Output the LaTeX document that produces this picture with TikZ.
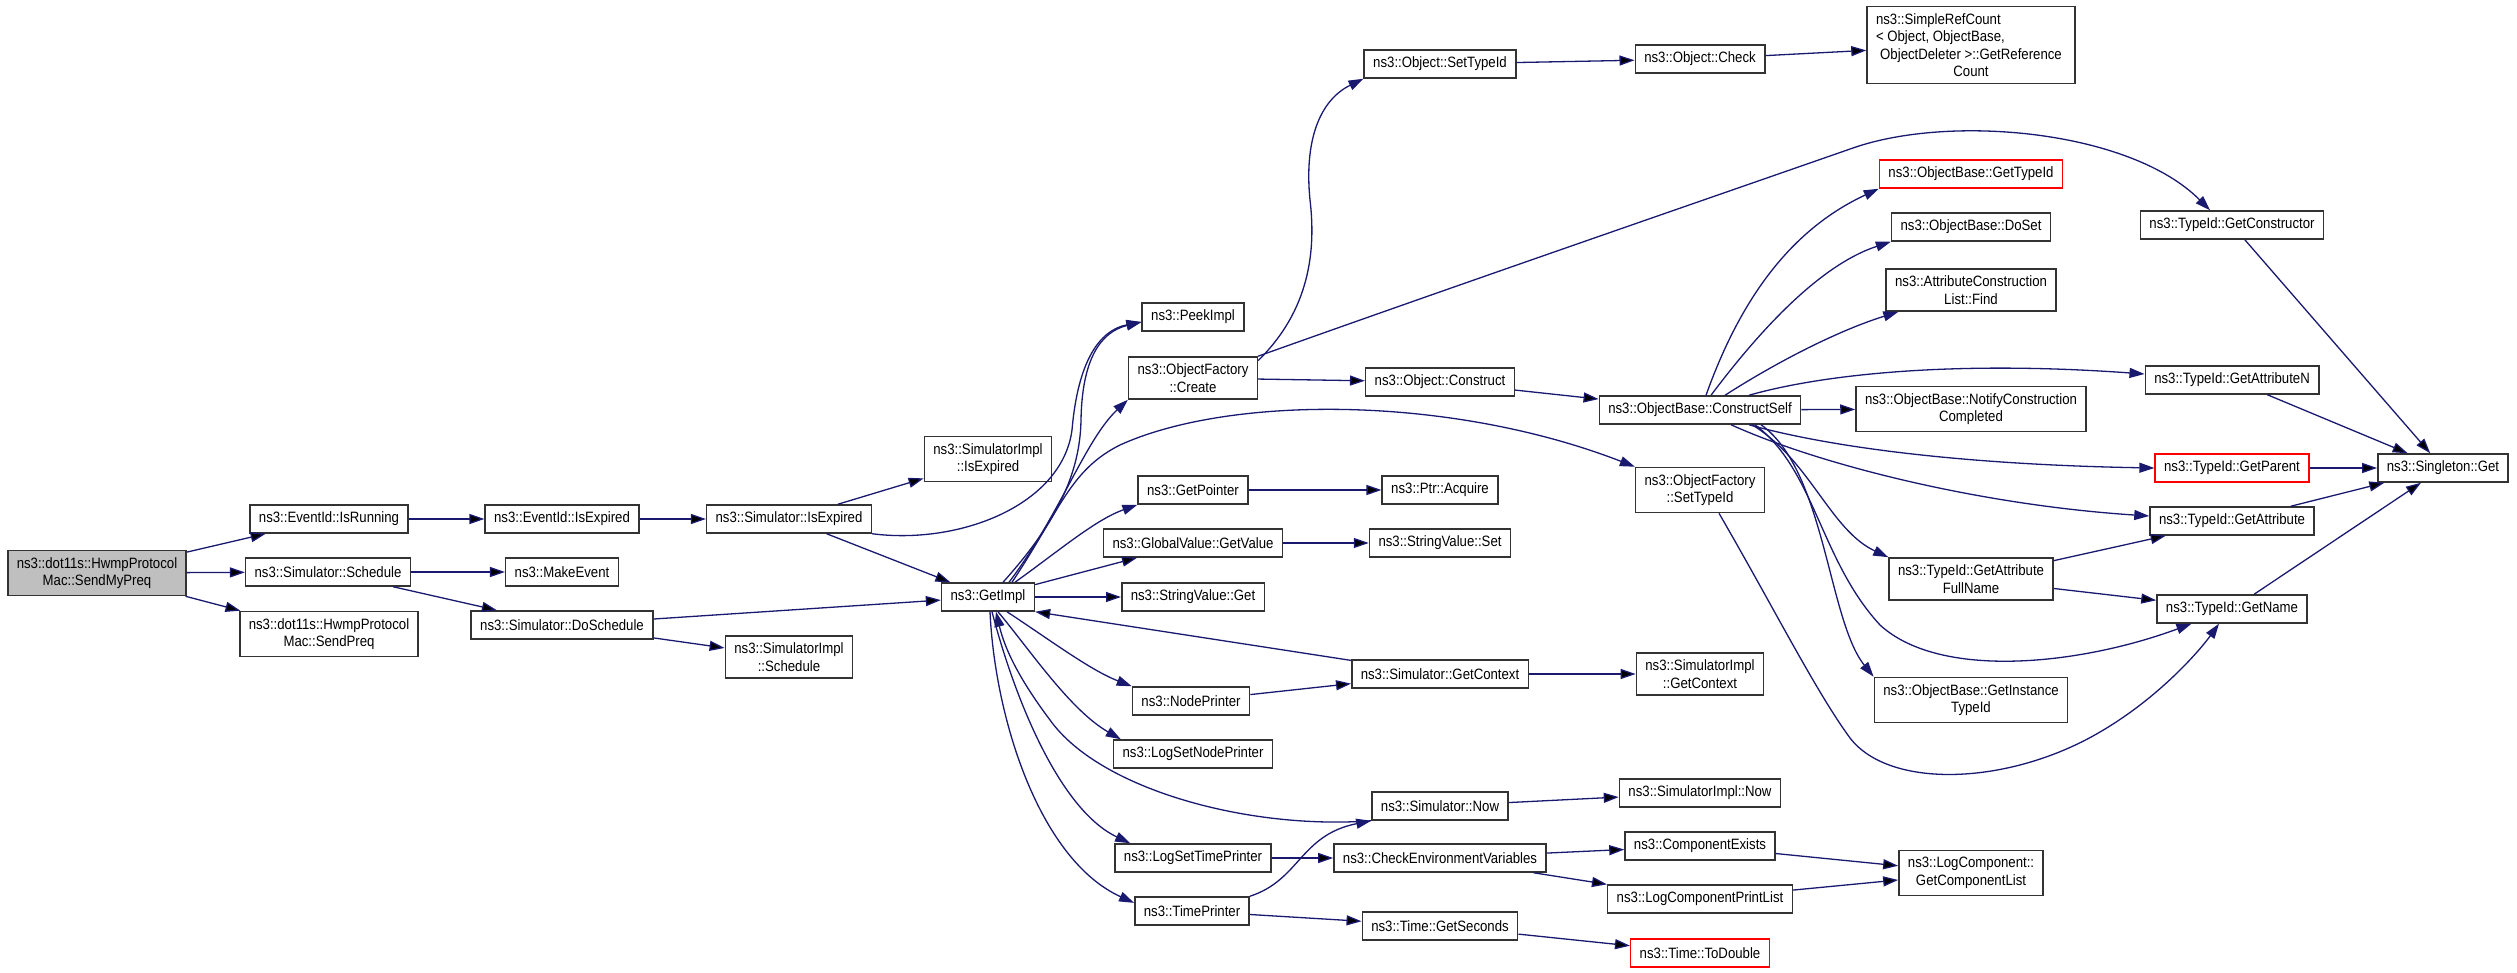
\documentclass[tikz,border=0pt]{standalone}
\usepackage{fontspec}
\setmainfont{Liberation Sans}[FakeStretch=0.88]
\usetikzlibrary{arrows.meta, positioning}

\definecolor{edgeblue}{HTML}{191970}
\definecolor{callerfill}{HTML}{BFBFBF}

\tikzset{
  func/.style={draw=black!80, line width=1.5pt, align=center, inner xsep=9pt,
    inner ysep=6.8pt, minimum height=28pt, font=\fontsize{15}{17.5}\selectfont},
  caller/.style={func, fill=callerfill},
  undoc/.style={func, draw=red},
  call/.style={->, draw=edgeblue, line width=1.3pt}
}

\begin{document}
\begin{tikzpicture}[>={Triangle[length=15pt,width=10pt]}, x=1pt, y=-1pt]
  \useasboundingbox (0,0) rectangle (2517,973);

  % Create nodes
  \node[caller] (SendMyPreq) at (97,573) {ns3::dot11s::HwmpProtocol\\Mac::SendMyPreq};
  \node[func] (IsRunning) at (329,519) {ns3::EventId::IsRunning};
  \node[func] (Schedule) at (328,572) {ns3::Simulator::Schedule};
  \node[func] (SendPreq) at (329,634) {ns3::dot11s::HwmpProtocol\\Mac::SendPreq};
  \node[func] (EvIsExpired) at (562,519) {ns3::EventId::IsExpired};
  \node[func] (MakeEvent) at (562,572) {ns3::MakeEvent};
  \node[func] (DoSchedule) at (562,625) {ns3::Simulator::DoSchedule};
  \node[func] (SimIsExpired) at (789,519) {ns3::Simulator::IsExpired};
  \node[func] (ImplSchedule) at (789,657) {ns3::SimulatorImpl\\::Schedule};
  \node[func] (ImplIsExpired) at (988,459) {ns3::SimulatorImpl\\::IsExpired};
  \node[func] (GetImpl) at (988,597) {ns3::GetImpl};

  \node[func] (PeekImpl) at (1193,317) {ns3::PeekImpl};
  \node[func] (Create) at (1193,378) {ns3::ObjectFactory\\::Create};
  \node[func] (GetPointer) at (1193,490) {ns3::GetPointer};
  \node[func] (GetValue) at (1193,543) {ns3::GlobalValue::GetValue};
  \node[func] (StrGet) at (1193,597) {ns3::StringValue::Get};
  \node[func] (NodePrinter) at (1191,701) {ns3::NodePrinter};
  \node[func] (LogSetNodePrinter) at (1193,754) {ns3::LogSetNodePrinter};
  \node[func] (LogSetTimePrinter) at (1193,858) {ns3::LogSetTimePrinter};
  \node[func] (TimePrinter) at (1192,911) {ns3::TimePrinter};

  \node[func] (ObjSetTypeId) at (1440,64) {ns3::Object::SetTypeId};
  \node[func] (ObjConstruct) at (1440,382) {ns3::Object::Construct};
  \node[func] (PtrAcquire) at (1440,490) {ns3::Ptr::Acquire};
  \node[func] (StrSet) at (1440,543) {ns3::StringValue::Set};
  \node[func] (GetContext) at (1440,674) {ns3::Simulator::GetContext};
  \node[func] (SimNow) at (1440,806) {ns3::Simulator::Now};
  \node[func] (CheckEnv) at (1440,858) {ns3::CheckEnvironmentVariables};
  \node[func] (GetSeconds) at (1440,926) {ns3::Time::GetSeconds};

  \node[func] (ObjCheck) at (1700,59) {ns3::Object::Check};
  \node[func] (ConstructSelf) at (1700,410) {ns3::ObjectBase::ConstructSelf};
  \node[func] (FactorySetTypeId) at (1700,490) {ns3::ObjectFactory\\::SetTypeId};
  \node[func] (ImplGetContext) at (1700,674) {ns3::SimulatorImpl\\::GetContext};
  \node[func] (ImplNow) at (1700,793) {ns3::SimulatorImpl::Now};
  \node[func] (CompExists) at (1700,846) {ns3::ComponentExists};
  \node[func] (PrintList) at (1700,899) {ns3::LogComponentPrintList};
  \node[undoc] (ToDouble) at (1700,953) {ns3::Time::ToDouble};

  \node[func] (RefCount) at (1971,45) {\makebox[190pt][l]{ns3::SimpleRefCount}\\
    \makebox[190pt][l]{< Object, ObjectBase,}\\ObjectDeleter >::GetReference\\Count};
  \node[undoc] (BaseGetTypeId) at (1971,174) {ns3::ObjectBase::GetTypeId};
  \node[func] (DoSet) at (1971,227) {ns3::ObjectBase::DoSet};
  \node[func] (Find) at (1971,290) {ns3::AttributeConstruction\\List::Find};
  \node[func] (Notify) at (1971,409) {ns3::ObjectBase::NotifyConstruction\\Completed};
  \node[func] (FullName) at (1971,579) {ns3::TypeId::GetAttribute\\FullName};
  \node[func] (InstanceTypeId) at (1971,700) {ns3::ObjectBase::GetInstance\\TypeId};
  \node[func] (GetCompList) at (1971,873) {ns3::LogComponent::\\GetComponentList};

  \node[func] (GetConstructor) at (2232,225) {ns3::TypeId::GetConstructor};
  \node[func] (GetAttributeN) at (2232,380) {ns3::TypeId::GetAttributeN};
  \node[undoc] (GetParent) at (2232,468) {ns3::TypeId::GetParent};
  \node[func] (GetAttribute) at (2232,521) {ns3::TypeId::GetAttribute};
  \node[func] (GetName) at (2232,609) {ns3::TypeId::GetName};
  \node[func] (SingletonGet) at (2443,468) {ns3::Singleton::Get};

  % straight calls
  \path[call] (SendMyPreq) edge (IsRunning)
    (SendMyPreq) edge (Schedule)
    (SendMyPreq) edge (SendPreq)
    (IsRunning) edge (EvIsExpired)
    (EvIsExpired) edge (SimIsExpired)
    (Schedule) edge (MakeEvent)
    (Schedule) edge (DoSchedule)
    (SimIsExpired) edge (ImplIsExpired)
    (SimIsExpired) edge (GetImpl)
    (DoSchedule) edge (GetImpl)
    (DoSchedule) edge (ImplSchedule)
    (GetImpl) edge (GetValue)
    (GetImpl) edge (StrGet)
    (GetContext) edge (GetImpl.south east)
    (NodePrinter) edge (GetContext)
    (GetPointer) edge (PtrAcquire)
    (GetValue) edge (StrSet)
    (GetContext) edge (ImplGetContext)
    (SimNow) edge (ImplNow)
    (LogSetTimePrinter) edge (CheckEnv)
    (CheckEnv) edge (CompExists)
    (CheckEnv) edge (PrintList)
    (CompExists) edge (GetCompList)
    (PrintList) edge (GetCompList)
    (TimePrinter) edge (GetSeconds)
    (GetSeconds) edge (ToDouble)
    (ObjSetTypeId) edge (ObjCheck)
    (ObjCheck) edge (RefCount)
    (Create) edge (ObjConstruct)
    (ObjConstruct) edge (ConstructSelf)
    (ConstructSelf) edge (Notify)
    (FullName) edge (GetAttribute)
    (FullName) edge (GetName)
    (GetConstructor) edge (SingletonGet)
    (GetAttributeN) edge (SingletonGet)
    (GetParent) edge (SingletonGet)
    (GetAttribute) edge (SingletonGet)
    (GetName) edge (SingletonGet);

  % curved calls round ns3::GetImpl
  \draw[call] (SimIsExpired.south east) .. controls (960,545) and (1062,505) .. (1072,430)
    .. controls (1078,360) and (1100,330) .. ([yshift=-5pt]PeekImpl.west);
  \draw[call] ([xshift=15pt]GetImpl.north) .. controls (1050,530) and (1080,480) .. (1081,420)
    .. controls (1082,360) and (1100,332) .. ([yshift=-5pt]PeekImpl.west);
  \draw[call] ([xshift=21pt]GetImpl.north) .. controls (1060,515) and (1085,440) .. (Create.south west);
  \draw[call] ([xshift=24pt]GetImpl.north) .. controls (1060,510) and (1070,470) .. (1120,445)
    .. controls (1230,395) and (1450,395) .. (FactorySetTypeId.north west);
  \draw[call] ([xshift=27pt]GetImpl.north) .. controls (1060,550) and (1095,520) .. (GetPointer.south west);
  \draw[call] ([xshift=19pt]GetImpl.south) .. controls (1050,640) and (1090,670) .. (NodePrinter.north west);
  \draw[call] ([xshift=10pt]GetImpl.south) .. controls (1030,650) and (1070,710) .. ([xshift=8pt]LogSetNodePrinter.north west);
  \draw[call] ([xshift=4pt]GetImpl.south) .. controls (1015,700) and (1060,810) .. ([xshift=16pt]LogSetTimePrinter.north west);
  \draw[call] ([xshift=2pt]GetImpl.south) .. controls (995,720) and (1040,860) .. (TimePrinter.172);
  \draw[call] (SimNow.south west) .. controls (1250,830) and (1100,790) .. (1050,720)
    .. controls (1020,680) and (1005,650) .. ([xshift=8pt]GetImpl.south);
  \draw[call] (TimePrinter.north east) .. controls (1300,880) and (1300,835) .. (SimNow.south west);

  % curved calls of ns3::ObjectFactory::Create
  \draw[call] (Create.15) .. controls (1310,310) and (1316,250) .. (1310,200)
    .. controls (1304,140) and (1320,100) .. (ObjSetTypeId.south west);
  \draw[call] (Create.north east) .. controls (1455,286) and (1655,217) .. (1853,148)
    .. controls (1950,114) and (2130,130) .. ([xshift=-22pt]GetConstructor.north);

  % curved calls of ns3::ObjectBase::ConstructSelf
  \draw[call] ([xshift=6pt]ConstructSelf.north) .. controls (1740,300) and (1790,230) .. (BaseGetTypeId.south west);
  \draw[call] ([xshift=11pt]ConstructSelf.north) .. controls (1760,330) and (1820,265) .. (DoSet.south west);
  \draw[call] ([xshift=25pt]ConstructSelf.north) .. controls (1780,360) and (1840,330) .. ([xshift=13pt]Find.south west);
  \draw[call] ([xshift=49pt]ConstructSelf.north) .. controls (1820,375) and (1950,360) .. ([yshift=6pt]GetAttributeN.west);
  \draw[call] ([xshift=49pt]ConstructSelf.south) .. controls (1840,450) and (1980,465) .. (GetParent.west);
  \draw[call] ([xshift=31pt]ConstructSelf.south) .. controls (1820,465) and (1980,505) .. ([yshift=5pt]GetAttribute.west);
  \draw[call] ([xshift=52pt]ConstructSelf.south) .. controls (1810,460) and (1830,530) .. (FullName.north west);
  \draw[call] ([xshift=55pt]ConstructSelf.south) .. controls (1815,470) and (1820,560) .. (1880,625)
    .. controls (1940,680) and (2080,665) .. (GetName.200);
  \draw[call] ([xshift=61pt]ConstructSelf.south) .. controls (1825,470) and (1828,620) .. (InstanceTypeId.north west);

  % curved call of ns3::ObjectFactory::SetTypeId
  \draw[call] ([xshift=19pt]FactorySetTypeId.south) .. controls (1775,610) and (1815,690) .. (1850,738)
    .. controls (1890,790) and (2010,785) .. (2100,732)
    .. controls (2160,697) and (2200,650) .. ([xshift=-13pt]GetName.south);
\end{tikzpicture}
\end{document}
